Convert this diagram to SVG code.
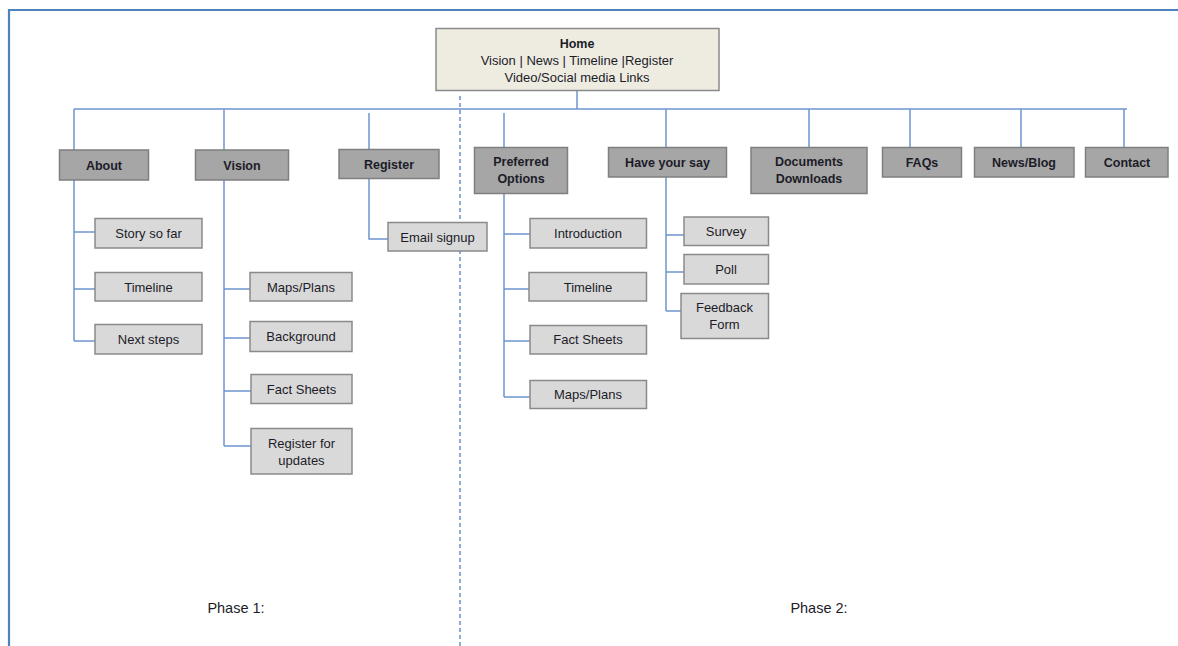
<svg xmlns="http://www.w3.org/2000/svg" width="1178" height="646" viewBox="0 0 1178 646">
<style>
text{font-family:"Liberation Sans",Arial,sans-serif;fill:#1c1c28;text-anchor:middle}
.h{font-size:12.5px;font-weight:bold}
.c{font-size:13px}
.top{fill:#a6a6a6;stroke:#7f7f7f;stroke-width:1.5}
.sub{fill:#d9d9d9;stroke:#8a8a8a;stroke-width:1.5}
.home{fill:#eeece1;stroke:#8a8a8a;stroke-width:1.5}
.con{fill:none;stroke:#6f95cf;stroke-width:1.5}
.ph{font-size:14.5px}
</style>
<rect width="1178" height="646" fill="#fff"/>
<g id="frame" fill="none" stroke="#4f81bd" stroke-width="2.2">
<path d="M9 646V10H1178"/>
</g>
<line id="divider" x1="460" y1="96" x2="460" y2="646" stroke="#4f81bd" stroke-width="1.3" stroke-dasharray="4,3"/>
<g id="connectors" class="con">
<path d="M577 91V109M74 109H1127"/>
<path d="M74 109V150M224 109V150M369 113V149M504 113V147M666 109V147M809 109V147M910 109V147M1021 109V147M1124 109V147"/>
<path d="M74 180V341M74 232H95M74 289H95M74 341H95"/>
<path d="M224 180V446M224 289H250M224 338H250M224 391H251M224 446H251"/>
<path d="M369 179V239H388"/>
<path d="M504 194V397M504 234H530M504 289H529M504 341H530M504 397H530"/>
<path d="M666 177V311M666 235H684M666 272H684M666 311H681"/>
</g>
<g id="home"><rect class="home" x="436" y="28.5" width="283" height="62"/>
<text class="h" x="577" y="47.5">Home</text>
<text class="c" x="577" y="64.5">Vision | News | Timeline |Register</text>
<text class="c" x="577" y="81.5">Video/Social media Links</text></g>
<g id="about"><rect class="top" x="59.5" y="150" width="89" height="30"/><text class="h" x="104" y="169.5">About</text></g>
<g id="vision"><rect class="top" x="195.5" y="150" width="93" height="30"/><text class="h" x="242" y="169.5">Vision</text></g>
<g id="register"><rect class="top" x="339" y="149.5" width="100" height="29"/><text class="h" x="389" y="168.5">Register</text></g>
<g id="preferred"><rect class="top" x="474.5" y="147.5" width="93" height="46"/><text class="h" x="521" y="166">Preferred</text><text class="h" x="521" y="183">Options</text></g>
<g id="haveyoursay"><rect class="top" x="608.5" y="147.5" width="118" height="29.5"/><text class="h" x="667.5" y="166.5">Have your say</text></g>
<g id="documents"><rect class="top" x="751" y="147.5" width="116" height="46"/><text class="h" x="809" y="166">Documents</text><text class="h" x="809" y="183">Downloads</text></g>
<g id="faqs"><rect class="top" x="882.5" y="147.5" width="79" height="29.5"/><text class="h" x="922" y="166.5">FAQs</text></g>
<g id="newsblog"><rect class="top" x="974.5" y="147.5" width="99.5" height="29.5"/><text class="h" x="1024" y="166.5">News/Blog</text></g>
<g id="contact"><rect class="top" x="1085.5" y="147.5" width="82.5" height="29.5"/><text class="h" x="1127" y="166.5">Contact</text></g>
<g id="storysofar"><rect class="sub" x="95" y="218.5" width="107" height="29.5"/><text class="c" x="148.5" y="237.5">Story so far</text></g>
<g id="about-timeline"><rect class="sub" x="95" y="272.5" width="107" height="28.5"/><text class="c" x="148.5" y="291.5">Timeline</text></g>
<g id="nextsteps"><rect class="sub" x="95" y="324.5" width="107" height="29.5"/><text class="c" x="148.5" y="343.5">Next steps</text></g>
<g id="vision-maps"><rect class="sub" x="250" y="272.5" width="102" height="28.5"/><text class="c" x="301" y="291.5">Maps/Plans</text></g>
<g id="background"><rect class="sub" x="250" y="321.5" width="102" height="30"/><text class="c" x="301" y="340.5">Background</text></g>
<g id="vision-facts"><rect class="sub" x="251" y="374.5" width="101" height="29"/><text class="c" x="301.5" y="393.5">Fact Sheets</text></g>
<g id="registerupdates"><rect class="sub" x="251" y="428.5" width="101" height="45.5"/><text class="c" x="301.5" y="447.5">Register for</text><text class="c" x="301.5" y="464.5">updates</text></g>
<g id="emailsignup"><rect class="sub" x="388" y="222.5" width="99" height="28.5"/><text class="c" x="437.5" y="241.5">Email signup</text></g>
<g id="introduction"><rect class="sub" x="530" y="218.5" width="116.5" height="29.5"/><text class="c" x="588" y="237.5">Introduction</text></g>
<g id="po-timeline"><rect class="sub" x="529" y="272.5" width="117.5" height="28.5"/><text class="c" x="588" y="291.5">Timeline</text></g>
<g id="po-facts"><rect class="sub" x="530" y="325.5" width="116.5" height="28.5"/><text class="c" x="588" y="344">Fact Sheets</text></g>
<g id="po-maps"><rect class="sub" x="530" y="380.5" width="116.5" height="28"/><text class="c" x="588" y="399">Maps/Plans</text></g>
<g id="survey"><rect class="sub" x="684" y="217" width="84.5" height="28.5"/><text class="c" x="726" y="236">Survey</text></g>
<g id="poll"><rect class="sub" x="684" y="254.5" width="84.5" height="29.5"/><text class="c" x="726" y="273.5">Poll</text></g>
<g id="feedback"><rect class="sub" x="681" y="293.5" width="87.5" height="45"/><text class="c" x="724.5" y="311.5">Feedback</text><text class="c" x="724.5" y="328.5">Form</text></g>
<g id="phase1"><text class="ph" x="236" y="613">Phase 1:</text></g>
<g id="phase2"><text class="ph" x="819" y="613">Phase 2:</text></g>
</svg>
